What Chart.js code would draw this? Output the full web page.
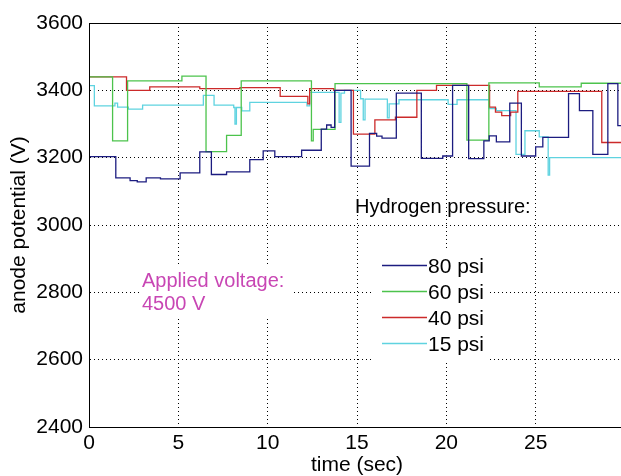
<!DOCTYPE html>
<html>
<head>
<meta charset="utf-8">
<script src="https://cdn.jsdelivr.net/npm/chart.js@4.4.1/dist/chart.umd.min.js"></script>
<style>
  html, body { margin: 0; padding: 0; background: #fff; overflow: hidden; }
  #wrap { width: 640px; height: 476px; }
</style>
</head>
<body>
<div id="wrap"><canvas id="chart" width="640" height="476"></canvas></div>
<script>
// Series labels (legend order)
const seriesLabels = ['80 psi', '60 psi', '40 psi', '15 psi'];

// Step breakpoints: time (sec) where each level starts, and the level (V)
const t80 = [0, 1.5, 2.3, 2.7, 3.2, 4.0, 5.1, 6.2, 6.85, 7.7, 9.0, 9.75, 10.4, 11.9, 13.0, 13.3, 13.55, 13.75, 14.67, 15.7, 16.1, 16.4, 17.2, 18.6, 19.8, 20.35, 21.25, 22.1, 22.4, 22.8, 23.55, 24.2, 25.0, 25.4, 26.84, 27.45, 28.2, 29.04, 29.6, 30];
const v80 = [3203, 3140, 3132, 3128, 3140, 3137, 3155, 3217, 3150, 3158, 3194, 3220, 3203, 3222, 3285, 3297, 3290, 3400, 3175, 3272, 3264, 3258, 3392, 3198, 3205, 3415, 3197, 3250, 3265, 3247, 3362, 3205, 3232, 3260, 3390, 3340, 3210, 3420, 3295, 3295];

const t60 = [0, 1.32, 2.16, 5.2, 6.55, 7.7, 8.52, 12.45, 12.55, 13.77, 21.15, 22.38, 25.2, 27.55, 30];
const v60 = [3440, 3250, 3428, 3442, 3218, 3266, 3428, 3250, 3284, 3420, 3252, 3422, 3410, 3421, 3421];

const t40 = [0, 2.1, 3.4, 6.2, 8.45, 10.7, 12.25, 12.35, 13.7, 14.8, 16.0, 17.15, 18.35, 19.45, 22.42, 22.75, 23.1, 23.6, 24.0, 28.7, 30];
const v40 = [3440, 3400, 3410, 3405, 3408, 3382, 3360, 3405, 3400, 3270, 3312, 3320, 3400, 3415, 3350, 3335, 3325, 3335, 3397, 3245, 3245];

const t15 = [0, 0.3, 1.45, 1.6, 2.2, 3.0, 6.4, 7.0, 8.1, 8.17, 8.25, 8.55, 9.0, 12.2, 12.35, 14.0, 14.1, 14.3, 15.2, 15.35, 15.45, 16.7, 16.8, 17.35, 20.1, 20.6, 22.4, 22.8, 23.9, 24.4, 25.2, 25.7, 25.78, 30];
const v15 = [3414, 3354, 3362, 3350, 3344, 3356, 3385, 3356, 3349, 3300, 3349, 3339, 3364, 3354, 3394, 3305, 3392, 3400, 3375, 3312, 3374, 3318, 3360, 3372, 3358, 3372, 3346, 3340, 3210, 3280, 3262, 3148, 3200, 3200];

// Tick labels
const xTicks = [0, 5, 10, 15, 20, 25];
const yTicks = [2400, 2600, 2800, 3000, 3200, 3400, 3600];

const FONT = '"Liberation Sans", Arial, sans-serif';
const lineColors = ['#1c1c80', '#4cc34c', '#cc2a2a', '#5fd3e0'];

const toPoints = (ts, vs) => ts.map((t, i) => ({ x: t, y: vs[i] }));
const seriesData = [toPoints(t80, v80), toPoints(t60, v60), toPoints(t40, v40), toPoints(t15, v15)];

// Plot frame (top/right edges, MATLAB-style box)
const framePlugin = {
  id: 'frame',
  afterDraw(chart) {
    const { ctx, chartArea: a } = chart;
    ctx.save();
    ctx.strokeStyle = '#000';
    ctx.lineWidth = 1;
    ctx.strokeRect(Math.round(a.left) + 0.5, Math.round(a.top) + 0.5, a.right - a.left, a.bottom - a.top);
    ctx.restore();
  }
};

// Text notes and the in-plot legend
const notesPlugin = {
  id: 'notes',
  beforeDatasetsDraw(chart) {
    // white backing boxes that hide the grid behind the legend and the voltage note
    const { ctx } = chart;
    ctx.save();
    ctx.fillStyle = '#fff';
    ctx.fillRect(372, 249, 116, 113);
    ctx.fillRect(139, 266, 152, 50);
    ctx.restore();
  },
  afterDraw(chart) {
    const { ctx } = chart;
    ctx.save();
    ctx.textBaseline = 'alphabetic';
    ctx.textAlign = 'left';
    ctx.font = '20px ' + FONT;
    ctx.fillStyle = '#000';
    ctx.fillText('Hydrogen pressure:', 355, 213);

    chart.data.datasets.forEach((ds, i) => {
      const yc = 265.5 + i * 26;
      ctx.strokeStyle = ds.borderColor;
      ctx.lineWidth = 1.4;
      ctx.beginPath();
      ctx.moveTo(382, yc);
      ctx.lineTo(427, yc);
      ctx.stroke();
      ctx.fillStyle = '#000';
      ctx.font = '21px ' + FONT;
      ctx.fillText(ds.label, 428, yc + 7.5);
    });

    ctx.fillStyle = '#c846b4';
    ctx.font = '20px ' + FONT;
    ctx.fillText('Applied voltage:', 142, 287);
    ctx.fillText('4500 V', 142, 310);
    ctx.restore();
  }
};

new Chart(document.getElementById('chart'), {
  type: 'line',
  data: {
    datasets: seriesData.map((d, i) => ({
      label: seriesLabels[i],
      data: d,
      borderColor: lineColors[i],
      borderWidth: 1.3,
      stepped: 'before',
      pointRadius: 0,
      fill: false
    }))
  },
  options: {
    responsive: false,
    animation: false,
    events: [],
    layout: { padding: { top: 23, right: 15, left: 0, bottom: 0 } },
    plugins: {
      legend: { display: false },
      tooltip: { enabled: false }
    },
    scales: {
      x: {
        type: 'linear',
        min: 0,
        max: 30,
        afterBuildTicks: (scale) => { scale.ticks = xTicks.map(v => ({ value: v })); },
        afterFit: (scale) => { scale.height = 49; },
        ticks: { color: '#000', font: { family: FONT, size: 21 }, padding: 4, maxRotation: 0, callback: (v) => String(v) },
        grid: { color: '#000', drawTicks: false },
        border: { display: true, color: '#000', width: 1, dash: [1, 3] },
        title: { display: true, text: 'time (sec)', color: '#000', font: { family: FONT, size: 21, lineHeight: 1 }, padding: 0 }
      },
      y: {
        min: 2400,
        max: 3600,
        afterBuildTicks: (scale) => { scale.ticks = yTicks.map(v => ({ value: v })); },
        afterFit: (scale) => { scale.width = 89; },
        ticks: { color: '#000', font: { family: FONT, size: 21 }, padding: 6, callback: (v) => String(v) },
        grid: { color: '#000', drawTicks: false },
        border: { display: true, color: '#000', width: 1, dash: [1, 3] },
        title: { display: true, text: 'anode potential (V)', color: '#000', font: { family: FONT, size: 21, lineHeight: 1.2 }, padding: { top: 7, bottom: 0 } }
      }
    }
  },
  plugins: [framePlugin, notesPlugin]
});
</script>
</body>
</html>
